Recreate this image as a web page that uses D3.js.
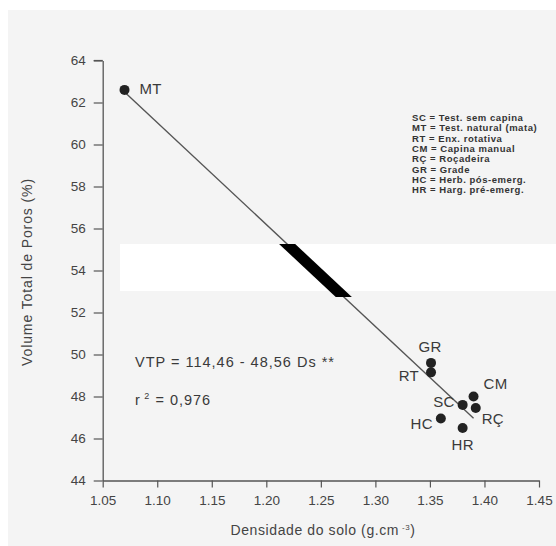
<!DOCTYPE html>
<html>
<head>
<meta charset="utf-8">
<script src="https://cdn.jsdelivr.net/npm/d3@7"></script>
<style>
  html, body { margin: 0; padding: 0; background: #fff; }
  svg { display: block; }
  text { font-family: "Liberation Sans", Arial, sans-serif; }
</style>
</head>
<body>
<svg id="chart" width="556" height="546"></svg>
<script>
// Treatment codes, soil density (g/cm3) and total porosity (%)
const codes = ["MT", "GR", "RT", "SC", "CM", "RÇ", "HC", "HR"];
const density = [1.07, 1.351, 1.351, 1.38, 1.39, 1.392, 1.36, 1.38];
const porosity = [62.6, 49.6, 49.15, 47.6, 48.0, 47.45, 46.95, 46.5];

// Label placement per treatment: [dx, dy, anchor]
const labelPos = [
  [15, 0, "start"], [-1, -15, "middle"], [-12, 5, "end"], [-8, -2, "end"],
  [10, -11, "start"], [6, 12, "start"], [-8, 6, "end"], [0, 18, "middle"]
];

// Regression VTP = a - b * Ds
const regA = 114.46, regB = 48.56;
const regRange = [1.07, 1.39];

const xTicks = [1.05, 1.10, 1.15, 1.20, 1.25, 1.30, 1.35, 1.40, 1.45];
const yTicks = [44, 46, 48, 50, 52, 54, 56, 58, 60, 62, 64];

const legendLines = [
  "SC = Test. sem capina",
  "MT = Test. natural (mata)",
  "RT =  Enx. rotativa",
  "CM = Capina manual",
  "RÇ = Roçadeira",
  "GR = Grade",
  "HC = Herb. pós-emerg.",
  "HR = Harg. pré-emerg."
];

const svg = d3.select("#chart");

// paper background
svg.append("rect").attr("x", 8).attr("y", 10).attr("width", 548).attr("height", 536)
  .attr("fill", "#f4f4f4");

const x = d3.scaleLinear().domain([1.05, 1.45]).range([102.7, 539]);
const y = d3.scaleLinear().domain([44, 64]).range([480.5, 60.5]);

const ink = "#3a3a3a";

// axes
const xAxis = d3.axisBottom(x).tickValues(xTicks).tickFormat(d3.format(".2f"))
  .tickSize(7).tickPadding(8).tickSizeOuter(0);
const yAxis = d3.axisLeft(y).tickValues(yTicks).tickFormat(d3.format("d"))
  .tickSize(9).tickPadding(8).tickSizeOuter(0);

const gx = svg.append("g").attr("transform", `translate(0,${y(44)})`).call(xAxis);
const gy = svg.append("g").attr("transform", `translate(${x(1.05)},0)`).call(yAxis);

[gx, gy].forEach(g => {
  g.select(".domain").attr("stroke", "#555").attr("stroke-width", 1.3);
  g.selectAll(".tick line").attr("stroke", "#555").attr("stroke-width", 1.2);
  g.selectAll(".tick text").attr("fill", "#444").style("font-size", "13.5px")
    .style("font-family", "'Liberation Sans', Arial, sans-serif");
});

// small cap at the top of the y axis
svg.append("line").attr("x1", x(1.05) - 9).attr("x2", x(1.05))
  .attr("y1", y(64)).attr("y2", y(64)).attr("stroke", "#555").attr("stroke-width", 1.2);

// axis titles
const xt = svg.append("text").attr("x", 323).attr("y", 535).attr("text-anchor", "middle")
  .attr("fill", "#444").style("font-size", "14px").style("letter-spacing", "0.6px");
xt.append("tspan").text("Densidade do solo (g.cm");
xt.append("tspan").attr("dy", -5).style("font-size", "8px").text(" -3");
xt.append("tspan").attr("dy", 5).text(")");

svg.append("text")
  .attr("transform", `translate(32,272) rotate(-90)`)
  .attr("text-anchor", "middle").attr("fill", "#444")
  .style("font-size", "14px").style("letter-spacing", "0.9px")
  .text("Volume Total de Poros (%)");

// regression line
const regLine = d3.line().x(d => x(d)).y(d => y(regA - regB * d));
svg.append("path").datum(regRange).attr("d", regLine)
  .attr("fill", "none").attr("stroke", "#555").attr("stroke-width", 1.4);

// white band with a heavy stroke of the fitted line through it
svg.append("rect").attr("x", 120).attr("y", 244).attr("width", 436).attr("height", 47).attr("fill", "#fff");
svg.append("clipPath").attr("id", "bandClip")
  .append("rect").attr("x", 120).attr("y", 244).attr("width", 436).attr("height", 53);
svg.append("path").datum(regRange).attr("d", regLine)
  .attr("clip-path", "url(#bandClip)")
  .attr("fill", "none").attr("stroke", "#000").attr("stroke-width", 11);

// points
const pts = codes.map((c, i) => ({ code: c, ds: density[i], vtp: porosity[i], lp: labelPos[i] }));
svg.append("g").selectAll("circle").data(pts).join("circle")
  .attr("cx", d => x(d.ds)).attr("cy", d => y(d.vtp)).attr("r", 5)
  .attr("fill", "#222");

svg.append("g").selectAll("text").data(pts).join("text")
  .attr("x", d => x(d.ds) + d.lp[0]).attr("y", d => y(d.vtp) + d.lp[1])
  .attr("text-anchor", d => d.lp[2]).attr("dominant-baseline", "middle")
  .attr("fill", ink).style("font-size", "15px").style("letter-spacing", "0.3px")
  .text(d => d.code);

// regression equation
svg.append("text").attr("x", 135).attr("y", 367).attr("fill", ink)
  .style("font-size", "14.5px").style("letter-spacing", "1px")
  .text("VTP = 114,46 - 48,56 Ds **");
const r2 = svg.append("text").attr("x", 135).attr("y", 405).attr("fill", ink)
  .style("font-size", "14.5px").style("letter-spacing", "1px");
r2.append("tspan").text("r");
r2.append("tspan").attr("dy", -6).style("font-size", "9px").text(" 2");
r2.append("tspan").attr("dy", 6).text(" = 0,976");

// legend
svg.append("g").selectAll("text").data(legendLines).join("text")
  .attr("x", 412).attr("y", (d, i) => 121 + i * 10.3)
  .attr("fill", "#333").style("font-size", "9.5px").style("font-weight", "bold")
  .style("letter-spacing", "0.55px")
  .text(d => d);
</script>
</body>
</html>
